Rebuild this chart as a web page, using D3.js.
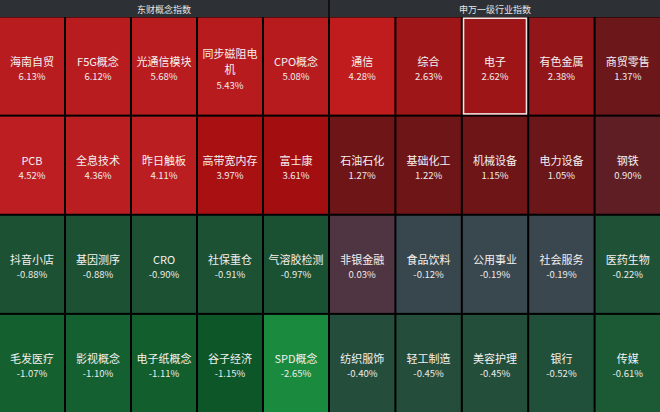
<!DOCTYPE html>
<html><head><meta charset="utf-8">
<script src="https://cdn.jsdelivr.net/npm/d3@7"></script>
<style>html,body{margin:0;padding:0;background:#000;}svg{display:block;}</style>
</head><body>
<script>
// ---- data ----
const panelTitles = ["东财概念指数", "申万一级行业指数"];
const leftNames = ["海南自贸","F5G概念","光通信模块","同步磁阻电机","CPO概念",
  "PCB","全息技术","昨日触板","高带宽内存","富士康",
  "抖音小店","基因测序","CRO","社保重仓","气溶胶检测",
  "毛发医疗","影视概念","电子纸概念","谷子经济","SPD概念"];
const leftValues = [6.13,6.12,5.68,5.43,5.08, 4.52,4.36,4.11,3.97,3.61,
  -0.88,-0.88,-0.90,-0.91,-0.97, -1.07,-1.10,-1.11,-1.15,-2.65];
const rightNames = ["通信","综合","电子","有色金属","商贸零售",
  "石油石化","基础化工","机械设备","电力设备","钢铁",
  "非银金融","食品饮料","公用事业","社会服务","医药生物",
  "纺织服饰","轻工制造","美容护理","银行","传媒"];
const rightValues = [4.28,2.63,2.62,2.38,1.37, 1.27,1.22,1.15,1.05,0.90,
  0.03,-0.12,-0.19,-0.19,-0.22, -0.40,-0.45,-0.45,-0.52,-0.61];
const highlighted = ["电子"];

// ---- styles ----
const leftPalette = ["#b91c1f","#b91c1f","#b81c1f","#b81b1e","#b81b1e",
  "#bc1e22","#ba1e21","#ba1e21","#a81012","#a30f11",
  "#1c5133","#1c5133","#1c5133","#1c5133","#1b5133",
  "#15602f","#146030","#125f2d","#0d5628","#198a3e"];
const rightPalette = ["#c01b1d","#9f1619","#9d1517","#921619","#6c1719",
  "#6e1517","#6e1517","#6d1517","#6b1618","#5f1e23",
  "#4f3541","#38474d","#39474e","#3a474e","#1f5137",
  "#244e3b","#244e3b","#234e3a","#21503a","#1c5a35"];

const W = 660, H = 412, headerH = 17;
const svg = d3.select("body").append("svg").attr("width", W).attr("height", H)
  .style("font-family", "'Microsoft YaHei','Noto Sans CJK SC','Noto Sans',sans-serif");
svg.append("rect").attr("width", W).attr("height", H).attr("fill", "#000");
svg.append("rect").attr("width", W).attr("height", headerH).attr("fill", "#2d3135");
svg.append("rect").attr("x", 328).attr("width", 2).attr("height", headerH).attr("fill", "#111");

const panels = [
  {title: panelTitles[0], names: leftNames, values: leftValues, palette: leftPalette, x0: 0, x1: 330},
  {title: panelTitles[1], names: rightNames, values: rightValues, palette: rightPalette, x0: 330, x1: 662}
];
const gap = 2;
const rowScale = d3.scaleBand().domain(d3.range(4)).range([headerH + 0.5, H + gap]);

function wrap(text, maxW, fs) {
  const lines = []; let cur = "", w = 0;
  for (const ch of text) {
    const cw = /[\u4e00-\u9fff]/.test(ch) ? fs : fs * 0.6;
    if (w + cw > maxW && cur) { lines.push(cur); cur = ""; w = 0; }
    cur += ch; w += cw;
  }
  if (cur) lines.push(cur);
  return lines;
}

panels.forEach(p => {
  const colScale = d3.scaleBand().domain(d3.range(5)).range([p.x0, p.x1]);
  const color = d3.scaleOrdinal(p.names, p.palette);
  const data = p.names.map((n, i) => ({name: n, value: p.values[i], col: i % 5, row: Math.floor(i / 5)}));
  svg.append("text").attr("x", (p.x0 + p.x1 - gap) / 2).attr("y", headerH / 2 + 0.5)
    .attr("text-anchor", "middle").attr("dominant-baseline", "central")
    .attr("font-size", 9).attr("fill", "#e6e6e6").text(p.title);
  const g = svg.append("g");
  const cells = g.selectAll("g.cell").data(data).join("g").attr("class", "cell")
    .attr("transform", d => `translate(${colScale(d.col)},${rowScale(d.row)})`);
  const cw = colScale.bandwidth() - gap, ch = rowScale.bandwidth() - gap;
  cells.append("rect").attr("width", cw).attr("height", ch).attr("fill", d => color(d.name));
  cells.filter(d => highlighted.includes(d.name)).append("rect")
    .attr("x", 0.75).attr("y", 0.75).attr("width", cw - 1.5).attr("height", ch - 1.5)
    .attr("fill", "none").attr("stroke", "#f0e6e6").attr("stroke-width", 1.5);
  cells.each(function(d) {
    const c = d3.select(this);
    const fs = 11;
    const lines = wrap(d.name, cw - 5, fs);
    const lh = lines.length > 1 ? 16 : 13;
    const total = lines.length * lh + 14;
    let y = ch / 2 - total / 2 + lh / 2 + 2.5;
    lines.forEach((l, i) => {
      c.append("text").attr("text-anchor", "middle")
        .attr("font-size", fs).attr("fill", "#f4f0f0")
        .attr("x", cw / 2).attr("y", y + 4).text(l);
      y += lh;
    });
    if (lines.length > 1) y -= 2;
    c.append("text").attr("x", cw / 2).attr("y", y + 1.5).attr("text-anchor", "middle")
      .attr("dominant-baseline", "central").attr("font-size", 9.5).attr("fill", "#eeeaea")
      .text(d.value.toFixed(2) + "%");
  });
});
</script>
</body></html>
